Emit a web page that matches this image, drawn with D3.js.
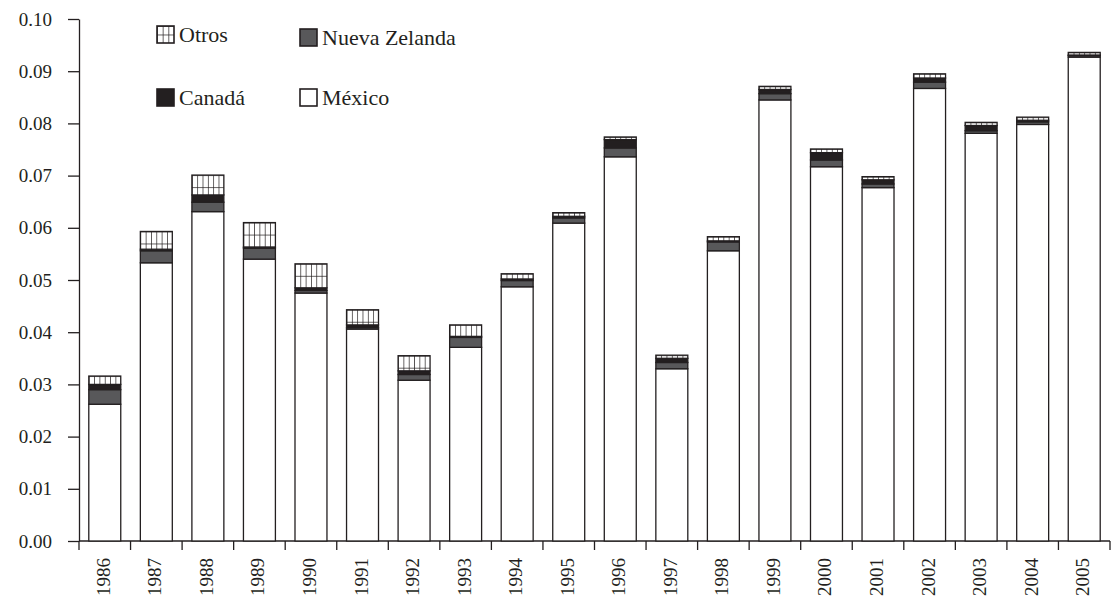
<!DOCTYPE html>
<html>
<head>
<meta charset="utf-8">
<script src="https://cdn.jsdelivr.net/npm/d3@7"></script>
<style>
  body { margin: 0; background: #fff; }
  text { font-family: "Liberation Serif", "DejaVu Serif", serif; fill: #231f20; }
</style>
</head>
<body>
<div id="chart"></div>
<script>
// data
const years = [1986, 1987, 1988, 1989, 1990, 1991, 1992, 1993, 1994, 1995,
               1996, 1997, 1998, 1999, 2000, 2001, 2002, 2003, 2004, 2005];
const mexico = [0.0262, 0.0533, 0.0631, 0.0540, 0.0475, 0.0406, 0.0308, 0.0371, 0.0487, 0.0609,
                0.0736, 0.0330, 0.0556, 0.0845, 0.0717, 0.0677, 0.0867, 0.0781, 0.0798, 0.0927];
const nuevaZelanda = [0.0028, 0.0023, 0.0018, 0.0021, 0.0005, 0.0003, 0.0011, 0.0019, 0.0012, 0.0010,
                      0.0017, 0.0012, 0.0017, 0.0012, 0.0013, 0.0007, 0.0012, 0.0005, 0.0005, 0.0003];
const canada = [0.0010, 0.0003, 0.0014, 0.0002, 0.0005, 0.0005, 0.0007, 0.0002, 0.0003, 0.0003,
                0.0016, 0.0008, 0.0002, 0.0008, 0.0014, 0.0008, 0.0008, 0.0010, 0.0003, 0.0001];
const otros = [0.0016, 0.0034, 0.0038, 0.0047, 0.0046, 0.0029, 0.0029, 0.0022, 0.0010, 0.0007,
               0.0005, 0.0006, 0.0008, 0.0006, 0.0007, 0.0006, 0.0008, 0.0006, 0.0006, 0.0005];
const yTicks = [0, 0.01, 0.02, 0.03, 0.04, 0.05, 0.06, 0.07, 0.08, 0.09, 0.10];

const keys = ["mexico", "nz", "canada", "otros"];
const rows = years.map((yr, i) => ({
  year: yr, mexico: mexico[i], nz: nuevaZelanda[i], canada: canada[i], otros: otros[i]
}));

const width = 1119, height = 605;
const ink = "#231f20";
const fills = { mexico: "#ffffff", nz: "#58585a", canada: "#231f20" };

const svg = d3.select("#chart")
  .append("svg")
    .attr("width", width)
    .attr("height", height);

const defs = svg.append("defs");

const x = d3.scaleBand()
  .domain(years)
  .range([79, 1110])
  .paddingInner(0.38)
  .paddingOuter(0.19);

const y = d3.scaleLinear()
  .domain([0, 0.10])
  .range([541, 19]);

// grid pattern for "Otros"
function gridPattern(id, px, py, w, h) {
  const p = defs.append("pattern")
    .attr("id", id)
    .attr("patternUnits", "userSpaceOnUse")
    .attr("x", px).attr("y", py)
    .attr("width", w).attr("height", h);
  p.append("rect").attr("width", w).attr("height", h).attr("fill", "#fff");
  p.append("line").attr("x1", 0).attr("x2", 0).attr("y1", 0).attr("y2", h)
    .attr("stroke", ink).attr("stroke-width", 1.4);
  p.append("line").attr("x1", 0).attr("x2", w).attr("y1", 0).attr("y2", 0)
    .attr("stroke", ink).attr("stroke-width", 1.4);
}

const stacked = d3.stack().keys(keys)(rows);

// Y axis
const yAxis = svg.append("g")
  .attr("transform", `translate(${x.range()[0]},0)`)
  .call(d3.axisLeft(y)
    .tickValues(yTicks)
    .tickFormat(d3.format(".2f"))
    .tickSize(11)
    .tickSizeOuter(0)
    .tickPadding(16));
yAxis.selectAll("path, line").attr("stroke", ink).attr("stroke-width", 1.3);
yAxis.selectAll("text")
  .style("font-family", '"Liberation Serif", serif')
  .style("font-size", "19px")
  .attr("fill", ink);

// X axis
const xAxis = svg.append("g")
  .attr("transform", `translate(0,${y(0)})`);
xAxis.append("line")
  .attr("x1", x.range()[0]).attr("x2", x.range()[1])
  .attr("stroke", ink).attr("stroke-width", 1.3);
xAxis.selectAll(".tk")
  .data(d3.range(years.length + 1))
  .join("line")
    .attr("class", "tk")
    .attr("x1", i => x.range()[0] + i * x.step())
    .attr("x2", i => x.range()[0] + i * x.step())
    .attr("y1", 0).attr("y2", 9)
    .attr("stroke", ink).attr("stroke-width", 1.3);
xAxis.selectAll(".yl")
  .data(years)
  .join("text")
    .attr("class", "yl")
    .attr("transform", d => `translate(${x(d) + x.bandwidth() / 2 + 5},17) rotate(-90)`)
    .attr("text-anchor", "end")
    .style("font-size", "19px")
    .text(d => d);

// bars
stacked.forEach(layer => {
  const key = layer.key;
  if (key === "otros") {
    layer.forEach(d => {
      gridPattern(`otros-${d.data.year}`, x(d.data.year), y(d[1]), x.bandwidth() / 6, 12);
    });
  }
  svg.append("g")
    .selectAll("rect")
    .data(layer)
    .join("rect")
      .attr("x", d => x(d.data.year))
      .attr("y", d => y(d[1]))
      .attr("width", x.bandwidth())
      .attr("height", d => y(d[0]) - y(d[1]))
      .attr("fill", d => key === "otros" ? `url(#otros-${d.data.year})` : fills[key])
      .attr("stroke", ink)
      .attr("stroke-width", 1.3);
});

// legend
const legendItems = [
  { key: "otros", label: "Otros", lx: 157, ly: 26 },
  { key: "nz", label: "Nueva Zelanda", lx: 300, ly: 29 },
  { key: "canada", label: "Canadá", lx: 157, ly: 89 },
  { key: "mexico", label: "México", lx: 300, ly: 89 }
];
const box = 17;
gridPattern("otros-legend", 157, 26, box / 3, box / 2);
const legend = svg.append("g");
legend.selectAll("rect")
  .data(legendItems)
  .join("rect")
    .attr("x", d => d.lx)
    .attr("y", d => d.ly)
    .attr("width", box)
    .attr("height", box)
    .attr("fill", d => d.key === "otros" ? "url(#otros-legend)" : fills[d.key])
    .attr("stroke", ink)
    .attr("stroke-width", 1.6);
legend.selectAll("text")
  .data(legendItems)
  .join("text")
    .attr("x", d => d.lx + box + 5)
    .attr("y", d => d.ly + box - 1)
    .style("font-size", "22px")
    .text(d => d.label);
</script>
</body>
</html>
